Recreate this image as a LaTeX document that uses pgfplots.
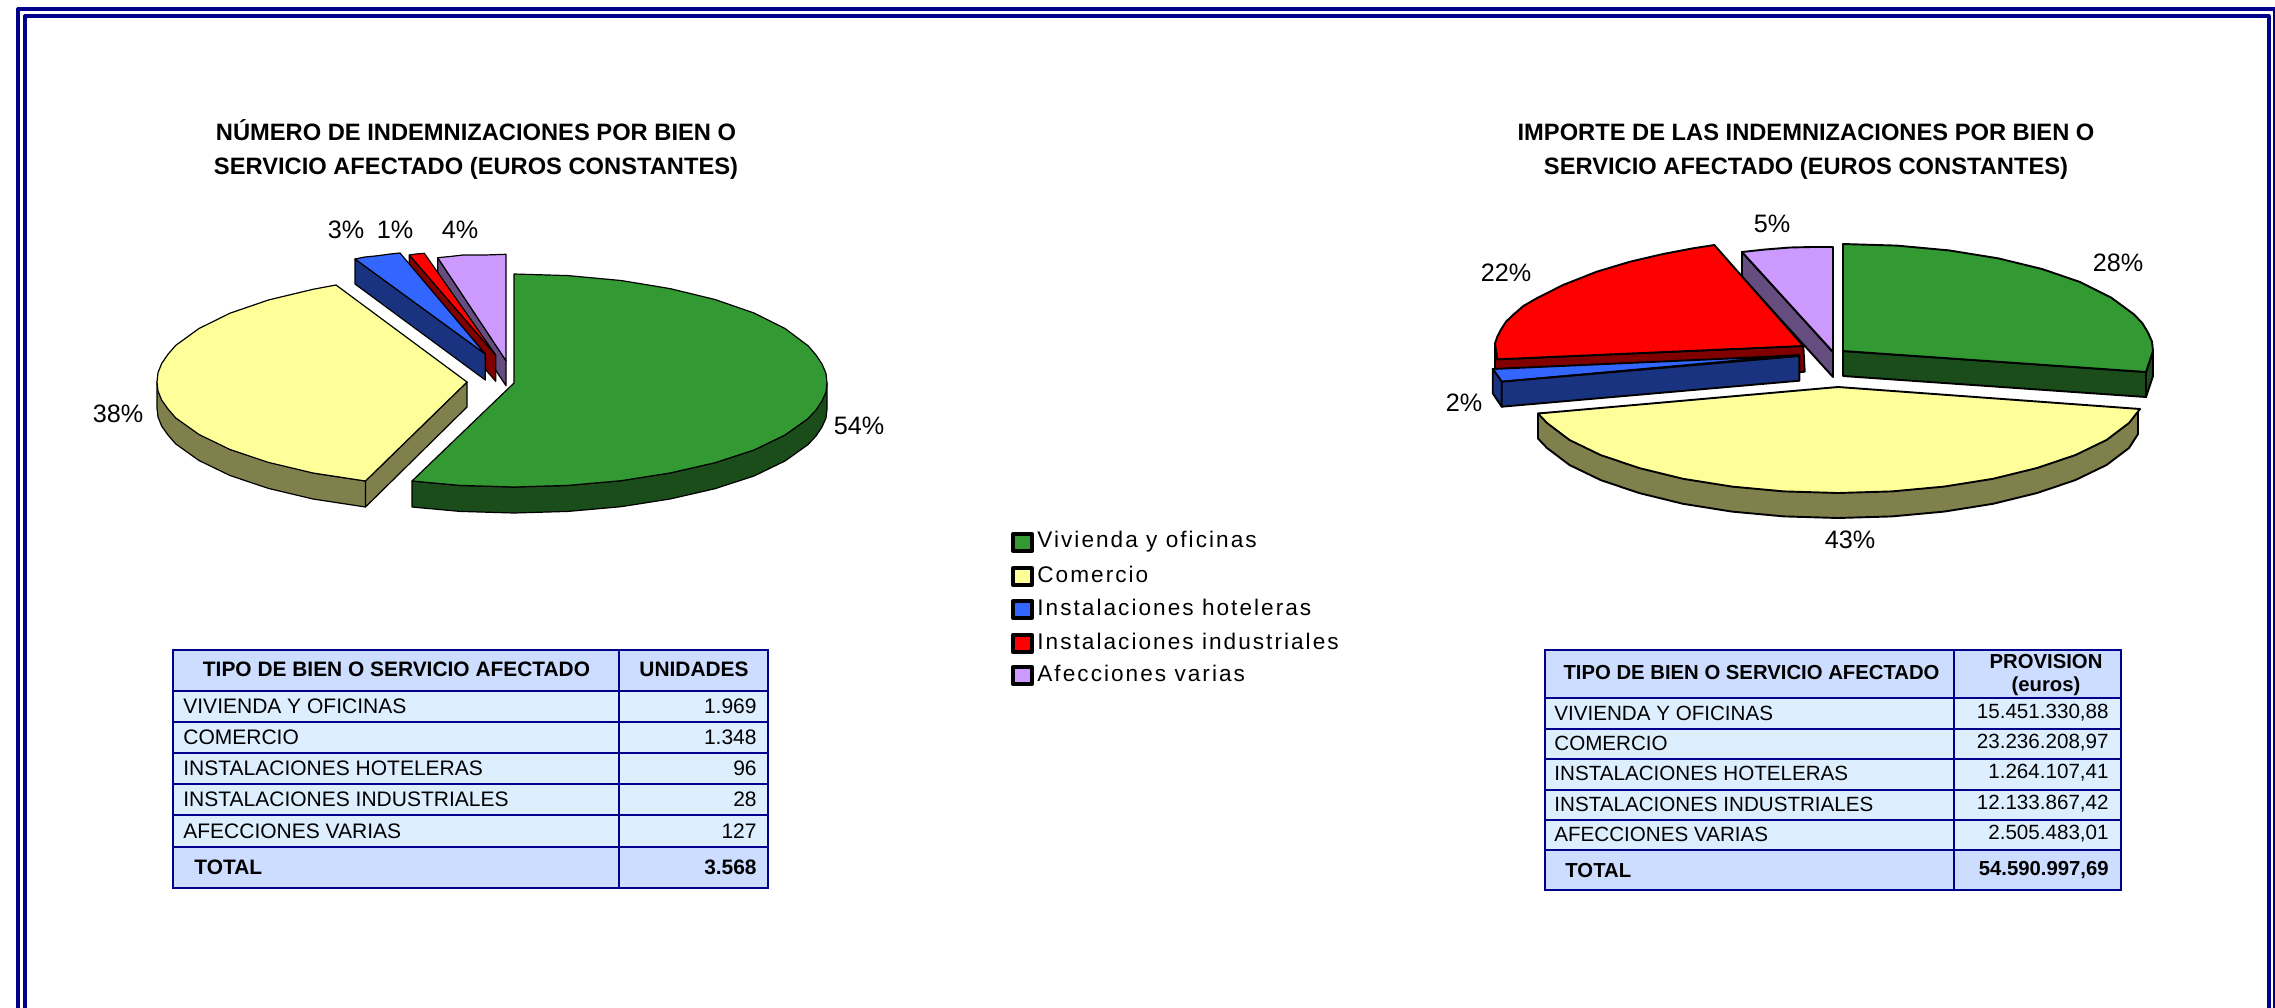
\documentclass[border=0pt]{standalone}
\usepackage{pgfplots}
\pgfplotsset{compat=1.18}
\usepackage{fontspec}
\setmainfont{Liberation Sans}
\newfontfamily\legfont[LetterSpace=9]{Liberation Sans}
\definecolor{gT}{HTML}{339933}\definecolor{gS}{HTML}{1A4D1A}
\definecolor{yT}{HTML}{FFFF99}\definecolor{yS}{HTML}{80804D}
\definecolor{bT}{HTML}{3366FF}\definecolor{bS}{HTML}{1A3380}
\definecolor{rT}{HTML}{FF0000}\definecolor{rS}{HTML}{800000}
\definecolor{pT}{HTML}{CC99FF}\definecolor{pS}{HTML}{664D80}
\definecolor{navy}{HTML}{00008B}
\definecolor{cellH}{HTML}{CCDDFF}\definecolor{cellB}{HTML}{DDEEFF}
\newcommand{\ttl}[1]{\fontsize{11.85}{14}\selectfont\bfseries #1}
\newcommand{\pct}[1]{\fontsize{12.6}{14}\selectfont #1}
\newcommand{\cell}{\fontsize{10.5}{12}\selectfont}
\newcommand{\cellb}{\fontsize{10.45}{12}\selectfont\bfseries}
\newcommand{\cellr}{\fontsize{10.3}{12}\selectfont}
\newcommand{\cellrb}{\fontsize{10.15}{12}\selectfont\bfseries}
\newcommand{\leg}{\legfont\fontsize{11.3}{13}\selectfont}
\tikzset{lp/.style={draw=black,line width=0.6pt},rp/.style={draw=black,line width=0.95pt},sw/.style={draw=black,line width=2pt}}
\begin{document}
\begin{tikzpicture}
\path[use as bounding box] (0,0) rectangle (1137.5pt,503.5pt);
\begin{axis}[at={(0,0)},anchor=south west,scale only axis,width=1137.5pt,height=503.5pt,
  xmin=0,xmax=2275,ymin=0,ymax=1007,y dir=reverse,axis lines=none,
  every axis plot/.append style={forget plot,line join=round}]
% frame
\addplot[draw=navy,line width=1.6pt] coordinates {(18,1040)(18,9)(2275,9)(2275,1040)};
\addplot[draw=navy,line width=1.6pt] coordinates {(25,1040)(25,16)(2269,16)(2269,1040)};
% LEFT PIE
% purple
\addplot[fill=pS,lp] coordinates {(437.7,257.7)(506,360.7)(506,385.7)(437.7,283)} -- cycle;
\addplot[fill=pT,lp] coordinates {(437.7,257.7)(450,256.5)(463,255)(485,255)(506,254.3)(506,360.7)} -- cycle;
% red
\addplot[fill=rS,lp] coordinates {(409.3,255)(495.7,355)(495.7,381.3)(409.3,281)} -- cycle;
\addplot[fill=rT,lp] coordinates {(409.3,255)(416,254)(424.3,253.3)(495.7,355)} -- cycle;
% blue
\addplot[fill=bS,lp] coordinates {(355,259)(485.3,354)(485.3,380)(355,284)} -- cycle;
\addplot[fill=bT,lp] coordinates {(355,259)(365,257)(378,255.7)(390,254)(400,253)(485.3,354)} -- cycle;
% yellow side
\addplot[fill=yS,lp] coordinates {(157,382)(157,408)(158,417)(161.7,426.2)(168,435)(175.7,443.9)(199,460.5)(230,475.5)(268.4,488.4)(313,499)(365.5,507)(365.5,481)(467,382)(467,407)(365.5,507)(365.5,481)(313,473)(230,449.5)(175.7,417.9)} -- cycle;
\addplot[fill=yT,lp] coordinates {(467,382)(336,285)(313,289.3)(268.4,300)(230,313.2)(199,328.5)(175.7,345.4)(168,354.3)(161.7,363.4)(158,372.7)(157,382)(158,391)(161.7,400.2)(168,409)(175.7,417.9)(199,434.5)(230,449.5)(268.4,462.4)(313,473)(365.5,481)} -- cycle;
% green side
\addplot[fill=gS,lp,xshift=-1pt] coordinates {(829,383)(829,409)(828,418)(824,427)(818,436)(810,444.6)(787,461)(756,476)(717,488.7)(672,499)(623,506.7)(570,511.4)(516,513)(462,511.4)(414,507)(414,481)(462,485.4)(516,487)(570,485.4)(623,480.7)(672,473)(717,462.7)(756,450)(787,435)(810,418.6)(824,401)} -- cycle;
\addplot[fill=gT,lp,xshift=-1pt] coordinates {(516,383)(516,274)(570,275.6)(623,280.5)(672,288.6)(717,299.5)(756,313)(787,328.5)(810,345.7)(818,355)(824,364)(828,373.5)(829,383)(828,392)(824,401)(818,410)(810,418.6)(787,435)(756,450)(717,462.7)(672,473)(623,480.7)(570,485.4)(516,487)(462,485.4)(414,481)} -- cycle;
% RIGHT PIE
% purple
\addplot[fill=pS,rp] coordinates {(1742,252)(1833,352)(1833,377)(1742,277)} -- cycle;
\addplot[fill=pT,rp] coordinates {(1742,252)(1765,249.5)(1790,247.5)(1812,247)(1833,247)(1833,352)} -- cycle;
% red
\addplot[fill=rS,rp] coordinates {(1495,343.3)(1497.3,359.3)(1803.3,346)(1804.7,371.7)(1700,380)(1495,380)} -- cycle;
\addplot[fill=rT,rp] coordinates {(1714.3,245)(1693,248.3)(1663,254)(1630,261.7)(1596.7,271.7)(1563,285)(1536.7,298.3)(1523.3,306)(1513,315)(1506,321.7)(1500.7,330)(1497.3,336.7)(1495,343.3)(1497.3,359.3)(1803.3,346)} -- cycle;
% blue
\addplot[fill=bT,rp] coordinates {(1492.7,369)(1763,357)(1799.3,355)(1501.7,381.7)} -- cycle;
\addplot[fill=bS,rp] coordinates {(1492.7,369)(1501.7,381.7)(1501.7,406.7)(1492.7,393.3)} -- cycle;
\addplot[fill=bS,rp] coordinates {(1501.7,381.7)(1799.3,356)(1799.3,380.7)(1501.7,406.7)} -- cycle;
% yellow
\addplot[fill=yS,rp] coordinates {(2138,410)(2138,434)(2129,448)(2106.5,465)(2075.5,480)(2037,493)(1993,503.8)(1944,511.6)(1892,516.4)(1838,518)(1784,516.4)(1732,511.6)(1683,503.8)(1639,493)(1600.5,480)(1569.5,465)(1547,448)(1538,438.5)(1538,413.5)} -- cycle;
\addplot[fill=yT,rp] coordinates {(1838,387)(2140,409)(2129,423)(2106.5,440)(2075.5,455)(2037,468)(1993,478.8)(1944,486.6)(1892,491.4)(1838,493)(1784,491.4)(1732,486.6)(1683,478.8)(1639,468)(1600.5,455)(1569.5,440)(1547,423)(1538,413.5)} -- cycle;
% green
\addplot[fill=gS,rp] coordinates {(2153,351)(2153,376)(2146,397)(2146,372)} -- cycle;
\addplot[fill=gS,rp] coordinates {(1843,351)(2146,372)(2146,397)(1843,376)} -- cycle;
\addplot[fill=gT,rp] coordinates {(1843,351)(1843,244)(1897,245.6)(1949,250.4)(1998,258.3)(2042,269)(2080,282)(2111,297.5)(2134,314.4)(2142.4,323.3)(2148,332.6)(2152,341.7)(2153,351)(2146,372)} -- cycle;
% LEGEND swatches
\addplot[fill=gT,sw] coordinates {(1013,534)(1032,534)(1032,551)(1013,551)} -- cycle;
\addplot[fill=yT,sw] coordinates {(1013,568)(1032,568)(1032,585)(1013,585)} -- cycle;
\addplot[fill=bT,sw] coordinates {(1013,601)(1032,601)(1032,618)(1013,618)} -- cycle;
\addplot[fill=rT,sw] coordinates {(1013,635)(1032,635)(1032,652)(1013,652)} -- cycle;
\addplot[fill=pT,sw] coordinates {(1013,667)(1032,667)(1032,684)(1013,684)} -- cycle;
% text
\node[anchor=base] at (axis cs:476,140.5) {\ttl{NÚMERO DE INDEMNIZACIONES POR BIEN O}};
\node[anchor=base] at (axis cs:476,174) {\ttl{SERVICIO AFECTADO (EUROS CONSTANTES)}};
\node[anchor=base] at (axis cs:1806,140.5) {\ttl{IMPORTE DE LAS INDEMNIZACIONES POR BIEN O}};
\node[anchor=base] at (axis cs:1806,174) {\ttl{SERVICIO AFECTADO (EUROS CONSTANTES)}};
\node at (axis cs:346,230) {\pct{3\%}};
\node at (axis cs:395,230) {\pct{1\%}};
\node at (axis cs:460,230) {\pct{4\%}};
\node at (axis cs:118,414) {\pct{38\%}};
\node at (axis cs:859,426) {\pct{54\%}};
\node at (axis cs:1772,223.5) {\pct{5\%}};
\node at (axis cs:2118,263) {\pct{28\%}};
\node at (axis cs:1506,273) {\pct{22\%}};
\node at (axis cs:1464,403) {\pct{2\%}};
\node at (axis cs:1850,540) {\pct{43\%}};
% legend text
\node[anchor=base west,inner sep=0pt] at (axis cs:1037,547.7) {\leg Vivienda y oficinas};
\node[anchor=base west,inner sep=0pt] at (axis cs:1037,582.7) {\leg Comercio};
\node[anchor=base west,inner sep=0pt] at (axis cs:1037,615) {\leg Instalaciones hoteleras};
\node[anchor=base west,inner sep=0pt] at (axis cs:1037,649.3) {\leg Instalaciones industriales};
\node[anchor=base west,inner sep=0pt] at (axis cs:1037,681.7) {\leg Afecciones varias};
% LEFT TABLE
\fill[cellH] (axis cs:173,650) rectangle (axis cs:768,888);
\fill[cellB] (axis cs:173,691) rectangle (axis cs:768,847);
\draw[navy,line width=1.1pt] (axis cs:173,650) rectangle (axis cs:768,888);
\draw[navy,line width=1.1pt] (axis cs:173,691) -- (axis cs:768,691);
\draw[navy,line width=1.1pt] (axis cs:173,722) -- (axis cs:768,722);
\draw[navy,line width=1.1pt] (axis cs:173,753) -- (axis cs:768,753);
\draw[navy,line width=1.1pt] (axis cs:173,784) -- (axis cs:768,784);
\draw[navy,line width=1.1pt] (axis cs:173,815) -- (axis cs:768,815);
\draw[navy,line width=1.1pt] (axis cs:173,847) -- (axis cs:768,847);
\draw[navy,line width=1.1pt] (axis cs:619,650) -- (axis cs:619,888);
\node at (axis cs:396.5,669.5) {\cellb TIPO DE BIEN O SERVICIO AFECTADO};
\node at (axis cs:694,669.5) {\cellb UNIDADES};
\node[anchor=west,inner sep=0pt] at (axis cs:183,706) {\cell VIVIENDA Y OFICINAS};
\node[anchor=west,inner sep=0pt] at (axis cs:183,737) {\cell COMERCIO};
\node[anchor=west,inner sep=0pt] at (axis cs:183,768) {\cell INSTALACIONES HOTELERAS};
\node[anchor=west,inner sep=0pt] at (axis cs:183,799) {\cell INSTALACIONES INDUSTRIALES};
\node[anchor=west,inner sep=0pt] at (axis cs:183,831) {\cell AFECCIONES VARIAS};
\node[anchor=west,inner sep=0pt] at (axis cs:194,867) {\cellb TOTAL};
\node[anchor=east,inner sep=0pt] at (axis cs:757,706) {\cell 1.969};
\node[anchor=east,inner sep=0pt] at (axis cs:757,737) {\cell 1.348};
\node[anchor=east,inner sep=0pt] at (axis cs:757,768) {\cell 96};
\node[anchor=east,inner sep=0pt] at (axis cs:757,799) {\cell 28};
\node[anchor=east,inner sep=0pt] at (axis cs:757,831) {\cell 127};
\node[anchor=east,inner sep=0pt] at (axis cs:757,867) {\cellb 3.568};
% RIGHT TABLE
\fill[cellH] (axis cs:1545,650) rectangle (axis cs:2121,890);
\fill[cellB] (axis cs:1545,698) rectangle (axis cs:2121,850);
\draw[navy,line width=1.1pt] (axis cs:1545,650) rectangle (axis cs:2121,890);
\draw[navy,line width=1.1pt] (axis cs:1545,698) -- (axis cs:2121,698);
\draw[navy,line width=1.1pt] (axis cs:1545,729) -- (axis cs:2121,729);
\draw[navy,line width=1.1pt] (axis cs:1545,759) -- (axis cs:2121,759);
\draw[navy,line width=1.1pt] (axis cs:1545,790) -- (axis cs:2121,790);
\draw[navy,line width=1.1pt] (axis cs:1545,820) -- (axis cs:2121,820);
\draw[navy,line width=1.1pt] (axis cs:1545,850) -- (axis cs:2121,850);
\draw[navy,line width=1.1pt] (axis cs:1954,650) -- (axis cs:1954,890);
\node at (axis cs:1751.5,673) {\cellrb TIPO DE BIEN O SERVICIO AFECTADO};
\node at (axis cs:2046,662) {\cellrb PROVISION};
\node at (axis cs:2046,686) {\cellrb (euros)};
\node[anchor=west,inner sep=0pt] at (axis cs:1554,713) {\cellr VIVIENDA Y OFICINAS};
\node[anchor=west,inner sep=0pt] at (axis cs:1554,743) {\cellr COMERCIO};
\node[anchor=west,inner sep=0pt] at (axis cs:1554,773) {\cellr INSTALACIONES HOTELERAS};
\node[anchor=west,inner sep=0pt] at (axis cs:1554,804) {\cellr INSTALACIONES INDUSTRIALES};
\node[anchor=west,inner sep=0pt] at (axis cs:1554,834) {\cellr AFECCIONES VARIAS};
\node[anchor=west,inner sep=0pt] at (axis cs:1565,870) {\cellrb TOTAL};
\node[anchor=east,inner sep=0pt] at (axis cs:2109,713) {\cellr 15.451.330,88};
\node[anchor=east,inner sep=0pt] at (axis cs:2109,743) {\cellr 23.236.208,97};
\node[anchor=east,inner sep=0pt] at (axis cs:2109,773) {\cellr 1.264.107,41};
\node[anchor=east,inner sep=0pt] at (axis cs:2109,804) {\cellr 12.133.867,42};
\node[anchor=east,inner sep=0pt] at (axis cs:2109,834) {\cellr 2.505.483,01};
\node[anchor=east,inner sep=0pt] at (axis cs:2109,870) {\cellrb 54.590.997,69};
\end{axis}
\end{tikzpicture}
\end{document}
